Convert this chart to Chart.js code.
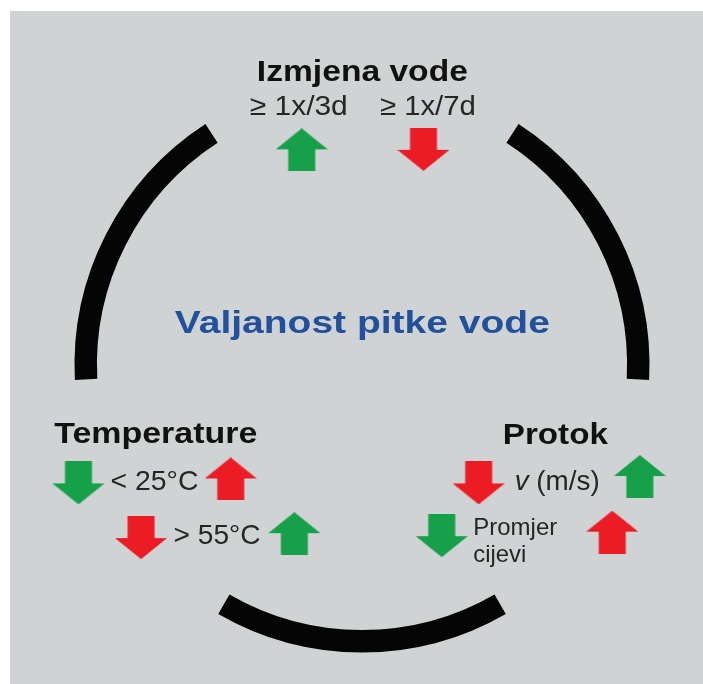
<!DOCTYPE html>
<html>
<head>
<meta charset="utf-8">
<script src="https://cdn.jsdelivr.net/npm/chart.js@4.4.0/dist/chart.umd.min.js"></script>
<style>
  html, body { margin: 0; padding: 0; background: #fff; }
  #wrap { position: relative; width: 703px; height: 684px; overflow: hidden; }
  #panel { position: absolute; left: 10px; top: 11px; right: 0; bottom: 0; background: #cfd3d4; }
  canvas { position: absolute; left: 0; top: 0; }
</style>
</head>
<body>
<div id="wrap">
  <div id="panel"></div>
  <canvas id="ring" width="703" height="684"></canvas>
  <canvas id="marks" width="703" height="684"></canvas>
</div>
<script>
// the three factors around the ring and what they decide
const factors = ['Izmjena vode', 'Temperature', 'Protok'];
const centerLabel = 'Valjanost pitke vode';
const conditions = ['≥ 1x/3d', '≥ 1x/7d', '< 25°C', '> 55°C', 'v (m/s)', 'Promjer cijevi'];

// ring: span in degrees of each black arc and each gap, clockwise from upper right
const ringLabels = ['Izmjena vode – Protok', '', 'Protok – Temperature', '', 'Temperature – Izmjena vode', ''];
const ringSpans = [60, 57, 60, 57, 60, 66];

// arrows: 1 = up, -1 = down ; 1 = good (green), 0 = bad (red)
const arrowDir  = [1, -1, -1, 1, -1, 1, -1, 1, -1, 1];
const arrowGood = [1, 0, 1, 0, 0, 1, 0, 1, 1, 0];

// ---- layout (pixel space of the 703x684 picture) ----
const arrowPos = [
  [301, 147], [424.5, 146.5],
  [74.5, 485], [229, 481], [138, 540.5], [293.5, 536.5],
  [480.5, 485], [644, 478.5], [443, 538.5], [616, 535]
];

const FONT = '"Liberation Sans", Arial, Helvetica, sans-serif';
const GREEN = '#17a04a';
const RED = '#ec1c24';

// text boxes: x = left (or centre), y = baseline, w = width it fills
const textLayout = [
  { parts: [[factors[0], 'bold 29px']], x: 362.5, y: 77, w: 211, align: 'center', color: '#111' },
  { parts: [[factors[1], 'bold 29px']], x: 50, y: 445, w: 203, color: '#111' },
  { parts: [[factors[2], 'bold 29px']], x: 505, y: 446, w: 105, color: '#111' },
  { parts: [[centerLabel, 'bold 31px']], x: 362.5, y: 333, w: 375, align: 'center', color: '#22509a' },
  { parts: [[conditions[0], '28px']], x: 298, y: 112, w: 98, align: 'center', color: '#262626' },
  { parts: [[conditions[1], '28px']], x: 429, y: 112, w: 96, align: 'center', color: '#262626' },
  { parts: [[conditions[2], '28px']], x: 107, y: 492, w: 88, color: '#262626' },
  { parts: [[conditions[3], '28px']], x: 171, y: 547, w: 87, color: '#262626' },
  { parts: [[conditions[4].split(' ')[0], 'italic 28px'], [' ' + conditions[4].split(' ').slice(1).join(' '), '28px']],
    x: 517, y: 492, w: 85, color: '#262626' },
  { parts: [[conditions[5].split(' ')[0], '24px']], x: 475, y: 538, w: 84, color: '#262626' },
  { parts: [[conditions[5].split(' ')[1], '24px']], x: 475, y: 565, w: 53, color: '#262626' }
];

function makeArrow(dir, color) {
  const W = 52, H = 43, head = 21, shaft = 27;
  const c = document.createElement('canvas');
  c.width = W; c.height = H;
  const g = c.getContext('2d');
  g.fillStyle = color;
  g.beginPath();
  if (dir > 0) {
    g.moveTo(W / 2, 0);
    g.lineTo(W, head);
    g.lineTo(W / 2 + shaft / 2, head);
    g.lineTo(W / 2 + shaft / 2, H);
    g.lineTo(W / 2 - shaft / 2, H);
    g.lineTo(W / 2 - shaft / 2, head);
    g.lineTo(0, head);
  } else {
    g.moveTo(W / 2, H);
    g.lineTo(W, H - head);
    g.lineTo(W / 2 + shaft / 2, H - head);
    g.lineTo(W / 2 + shaft / 2, 0);
    g.lineTo(W / 2 - shaft / 2, 0);
    g.lineTo(W / 2 - shaft / 2, H - head);
    g.lineTo(0, H - head);
  }
  g.closePath();
  g.fill();
  return c;
}

const arrowImgs = arrowDir.map((d, i) => makeArrow(d, arrowGood[i] ? GREEN : RED));

function drawFitted(ctx, item, xs, ys) {
  let total = 0;
  const parts = item.parts.map(p => {
    ctx.font = p[1] + ' ' + FONT;
    const w = ctx.measureText(p[0]).width;
    total += w;
    return { t: p[0], font: p[1] + ' ' + FONT, w: w };
  });
  const sx = item.w ? item.w / total : 1;
  const px = xs.getPixelForValue(item.x);
  const left = item.align === 'center' ? px - item.w / 2 : px;
  ctx.save();
  ctx.translate(left, ys.getPixelForValue(item.y));
  ctx.scale(sx, 1);
  ctx.fillStyle = item.color;
  ctx.textBaseline = 'alphabetic';
  ctx.textAlign = 'left';
  let cx = 0;
  parts.forEach(p => {
    ctx.font = p.font;
    ctx.fillText(p.t, cx, 0);
    cx += p.w;
  });
  ctx.restore();
}

const labelPlugin = {
  id: 'labels',
  afterDatasetsDraw(chart) {
    const ctx = chart.ctx;
    textLayout.forEach(item => drawFitted(ctx, item, chart.scales.x, chart.scales.y));
  }
};

new Chart(document.getElementById('ring'), {
  type: 'doughnut',
  data: {
    labels: ringLabels,
    datasets: [{
      data: ringSpans,
      backgroundColor: ringSpans.map((v, i) => i % 2 ? 'rgba(0,0,0,0)' : '#050505'),
      borderWidth: 0
    }]
  },
  options: {
    responsive: false,
    animation: false,
    events: [],
    rotation: 33,
    radius: 287.5,
    cutout: '92.2%',
    layout: { padding: { left: 21, right: 0, top: 46, bottom: 0 } },
    plugins: { legend: { display: false }, tooltip: { enabled: false } }
  }
});

new Chart(document.getElementById('marks'), {
  type: 'scatter',
  data: {
    datasets: [{
      data: arrowPos.map(p => ({ x: p[0], y: p[1] })),
      pointStyle: ctx => arrowImgs[ctx.dataIndex],
      pointRadius: 3
    }]
  },
  options: {
    responsive: false,
    animation: false,
    events: [],
    layout: { padding: 0 },
    scales: {
      x: { display: false, min: 0, max: 703 },
      y: { display: false, min: 0, max: 684, reverse: true }
    },
    plugins: { legend: { display: false }, tooltip: { enabled: false } }
  },
  plugins: [labelPlugin]
});
</script>
</body>
</html>
